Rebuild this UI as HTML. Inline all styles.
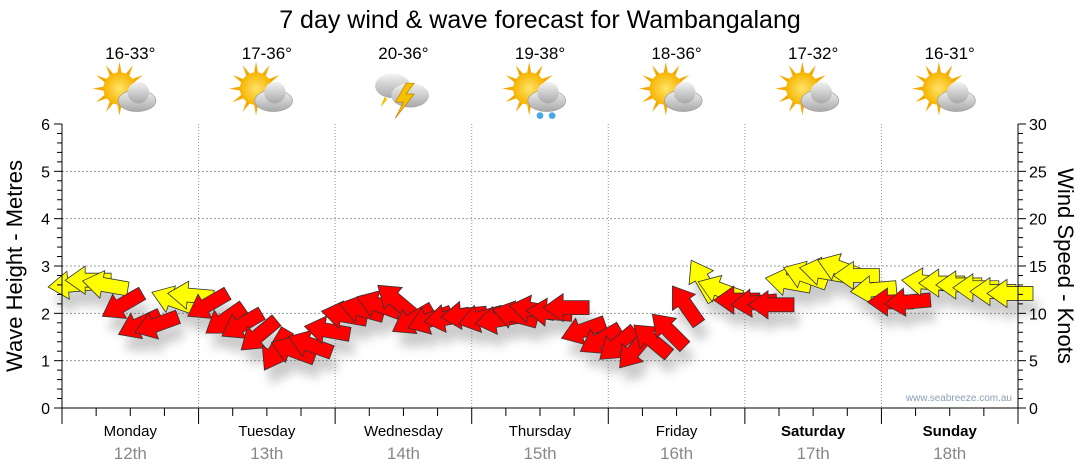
<!DOCTYPE html>
<html><head><meta charset="utf-8"><style>
body{margin:0;background:#fff;font-family:"Liberation Sans",sans-serif;}
svg{display:block}
</style></head><body>
<svg id="chart" width="1080" height="475" xmlns="http://www.w3.org/2000/svg" font-family="Liberation Sans, sans-serif">
<defs>
<filter id="sh" x="-50%" y="-50%" width="200%" height="200%"><feGaussianBlur stdDeviation="5"/></filter>
<radialGradient id="sun" cx="50%" cy="50%" r="50%"><stop offset="0" stop-color="#ffe46a"/><stop offset="1" stop-color="#f6b400"/></radialGradient>
<linearGradient id="cloud" x1="0" y1="0" x2="0" y2="1"><stop offset="0" stop-color="#f2f2f2"/><stop offset="1" stop-color="#a8a8a8"/></linearGradient>
</defs>
<text x="540" y="28" font-size="25" text-anchor="middle" fill="#000">7 day wind &amp; wave forecast for Wambangalang</text>
<g id="grid"></g>
<g id="icons"></g>
<g id="shadows" filter="url(#sh)" opacity="0.3"></g>
<g id="arrows"></g>
<g id="axes"></g>
<text transform="translate(22,266) rotate(-90)" font-size="22" text-anchor="middle">Wave Height - Metres</text>
<text transform="translate(1058,266) rotate(90)" font-size="22" text-anchor="middle">Wind Speed - Knots</text>
<text x="1012" y="401" font-size="10" fill="#8aa0b8" text-anchor="end">www.seabreeze.com.au</text>
</svg>
<script>
const days=["Monday","Tuesday","Wednesday","Thursday","Friday","Saturday","Sunday"];
const dates=["12th","13th","14th","15th","16th","17th","18th"];
const temps=["16-33°","17-36°","20-36°","19-38°","18-36°","17-32°","16-31°"];
const weather=["cloudsun","cloudsun","storm","rainsun","cloudsun","cloudsun","cloudsun"];
const waveTicks=[0,1,2,3,4,5,6];
const windTicks=[0,5,10,15,20,25,30];
const hours=[3,6,9,12,15,18,21,24,27,30,33,36,39,42,45,48,51,54,57,60,63,66,69,72,75,78,81,84,87,90,93,96,99,102,105,108,111,114,117,120,123,126,129,132,135,138,141,144,147,150,153,156,159,162,165,168];
const windSpeed=[13.0,13.5,13.0,10.9,8.8,8.8,11.4,11.9,10.9,9.3,8.8,7.7,6.1,6.1,6.7,8.2,9.8,10.4,10.9,11.4,9.3,9.3,9.5,9.8,9.5,9.3,9.8,10.4,10.1,10.6,8.2,7.2,6.7,6.1,7.2,8.2,10.9,13.5,12.5,11.4,11.1,10.9,13.3,14.0,14.4,14.8,14.0,12.5,11.2,11.2,13.3,13.2,13.0,12.7,12.3,12.1];
const windDir=[175,180,190,150,155,160,200,185,150,145,150,140,120,200,200,190,190,195,200,220,150,160,170,175,165,170,195,190,185,180,160,150,140,130,220,225,235,240,200,180,175,180,190,200,190,200,180,175,180,175,185,180,180,180,180,180];
const windColor=["Y","Y","Y","R","R","R","Y","Y","R","R","R","R","R","R","R","R","R","R","R","R","R","R","R","R","R","R","R","R","R","R","R","R","R","R","R","R","R","Y","Y","R","R","R","Y","Y","Y","Y","Y","Y","R","R","Y","Y","Y","Y","Y","Y"];
const NS="http://www.w3.org/2000/svg";
const X0=62,X1=1018,Y0=408,Y1=124;
const xH=h=>X0+(X1-X0)*h/168;
const yW=v=>Y0-(Y0-Y1)*v/6;
const yK=v=>Y0-(Y0-Y1)*v/30;
function mk(tag,attrs,parent,txt){const e=document.createElementNS(NS,tag);for(const k in attrs)e.setAttribute(k,attrs[k]);if(txt!==undefined)e.textContent=txt;parent.appendChild(e);return e;}
const grid=document.getElementById('grid'),axes=document.getElementById('axes'),icons=document.getElementById('icons'),arrows=document.getElementById('arrows'),shadows=document.getElementById('shadows');
waveTicks.forEach(t=>{if(t>0&&t<6){const l=mk('line',{x1:X0,x2:X1,y1:yW(t),y2:yW(t),stroke:'#999','stroke-dasharray':'2,2','stroke-width':1},grid);

}
const tx=mk('text',{x:50,y:yW(t)+6,'font-size':16,'text-anchor':'end'},axes,t);

});
windTicks.forEach(t=>{const tx=mk('text',{x:1029,y:yK(t)+6,'font-size':16},axes,t);

});
for(let i=0;i<=30;i++){const y=yK(i);const len=(i%5==0)?8:5;
mk('line',{x1:X0-len,x2:X0,y1:y,y2:y,stroke:'#000'},axes);
mk('line',{x1:X1,x2:X1+len,y1:y,y2:y,stroke:'#000'},axes);}
mk('line',{x1:X0,x2:X0,y1:Y1,y2:Y0,stroke:'#000'},axes);
mk('line',{x1:X1,x2:X1,y1:Y1,y2:Y0,stroke:'#000'},axes);
mk('line',{x1:X0-8,x2:X1+8,y1:Y0,y2:Y0,stroke:'#000'},axes);
for(let h=0;h<=168;h+=6){const x=xH(h);mk('line',{x1:x,x2:x,y1:Y0,y2:Y0+(h%24==0?16:8),stroke:'#000'},axes);}
days.forEach((d,i)=>{
 const cx=xH(i*24+12);
 if(i>0){const l=mk('line',{x1:xH(i*24),x2:xH(i*24),y1:Y1,y2:Y0,stroke:'#999','stroke-dasharray':'1,2'},grid);
 
 }
 const t1=mk('text',{x:cx,y:436,'font-size':15,'text-anchor':'middle','font-weight':i>=5?'bold':'normal'},axes,d);
 
 
 const t2=mk('text',{x:cx,y:459,'font-size':17,'text-anchor':'middle',fill:'#888'},axes,dates[i]);
 
 
 const t3=mk('text',{x:cx,y:59,'font-size':17,'text-anchor':'middle'},icons,temps[i]);
 
 
 const g=mk('g',{transform:`translate(${cx},94) scale(1.35)`},icons);
 
 
 const w=weather[i];
 if(w!=='storm'){
  for(let a=0;a<360;a+=30){const r=a*Math.PI/180;mk('polygon',{points:`${-8+Math.cos(r)*20},${-4+Math.sin(r)*20} ${-8+Math.cos(r+0.15)*11},${-4+Math.sin(r+0.15)*11} ${-8+Math.cos(r-0.15)*11},${-4+Math.sin(r-0.15)*11}`,fill:'#f5a800'},g);}
  mk('circle',{cx:-8,cy:-4,r:12,fill:'url(#sun)'},g);
  mk('ellipse',{cx:5,cy:5,rx:14,ry:8,fill:'url(#cloud)',stroke:'#999','stroke-width':0.5},g);
  mk('circle',{cx:6,cy:-1,r:8,fill:'url(#cloud)'},g);
  if(w==='rainsun'){mk('circle',{cx:0,cy:16,r:2.5,fill:'#4aa8e8'},g);mk('circle',{cx:9,cy:16,r:2.5,fill:'#4aa8e8'},g);}
 } else {
  mk('ellipse',{cx:-8,cy:-6,rx:13,ry:9,fill:'url(#cloud)'},g);
  mk('ellipse',{cx:5,cy:1,rx:14,ry:9,fill:'url(#cloud)'},g);
  mk('polygon',{points:'2,-8 -6,6 0,6 -6,18 8,0 2,0 8,-8',fill:'#f5c000',stroke:'#c08000','stroke-width':0.5},g);
  mk('polygon',{points:'-14,2 -17,10 -12,4',fill:'#f5c000'},g);
 }
});
const shape="-23,0 -3,-14 -3,-7 23,-7 23,7 -3,7 -3,14";
hours.forEach((h,i)=>{
 const x=xH(h)-8,y=yK(windSpeed[i]);
 const s=mk('polygon',{points:shape,transform:`translate(${x+5},${y+14}) rotate(${windDir[i]-180})`,fill:'#555'},shadows);
 
 
 const a=mk('polygon',{points:shape,transform:`translate(${x},${y}) rotate(${windDir[i]-180})`,fill:windColor[i]==='Y'?'#ffff00':'#ff0000',stroke:'#333','stroke-width':0.8},arrows);
 
 
});
</script>
</body></html>
